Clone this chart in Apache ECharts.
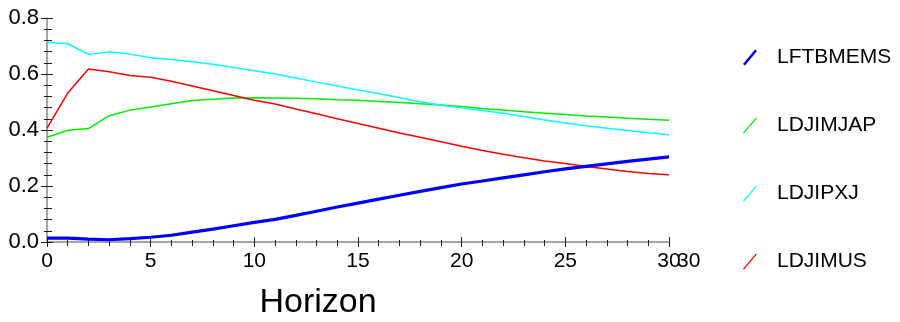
<!DOCTYPE html>
<html>
<head>
<meta charset="utf-8">
<script src="https://cdn.jsdelivr.net/npm/echarts@6/dist/echarts.min.js"></script>
<style>
  html, body { margin: 0; padding: 0; background: #fff; }
  #chart { width: 900px; height: 322px; }
</style>
</head>
<body>
<div id="chart"></div>
<script>
// horizon steps 0..30
var horizon = [0, 1, 2, 3, 4, 5, 6, 7, 8, 9, 10, 11, 12, 13, 14, 15, 16, 17, 18, 19, 20,
               21, 22, 23, 24, 25, 26, 27, 28, 29, 30];
var seriesNames = ['LFTBMEMS', 'LDJIMJAP', 'LDJIPXJ', 'LDJIMUS'];
var lftbmems = [0.014, 0.014, 0.010, 0.008, 0.012, 0.017, 0.024, 0.035, 0.046, 0.058, 0.070,
                0.081, 0.095, 0.110, 0.125, 0.139, 0.153, 0.167, 0.181, 0.194, 0.207,
                0.218, 0.229, 0.240, 0.251, 0.261, 0.270, 0.279, 0.288, 0.296, 0.304];
var ldjimjap = [0.374, 0.399, 0.405, 0.451, 0.471, 0.482, 0.494, 0.505, 0.510, 0.514, 0.515,
                0.514, 0.513, 0.512, 0.508, 0.506, 0.502, 0.498, 0.494, 0.489, 0.484,
                0.477, 0.471, 0.465, 0.460, 0.455, 0.450, 0.446, 0.442, 0.438, 0.435];
var ldjipxj = [0.713, 0.708, 0.670, 0.679, 0.671, 0.658, 0.652, 0.644, 0.635, 0.623, 0.612,
               0.600, 0.586, 0.571, 0.557, 0.543, 0.530, 0.515, 0.501, 0.488, 0.479,
               0.470, 0.460, 0.448, 0.436, 0.425, 0.415, 0.406, 0.398, 0.390, 0.383];
var ldjimus = [0.407, 0.532, 0.618, 0.608, 0.595, 0.588, 0.574, 0.557, 0.540, 0.523, 0.506,
               0.493, 0.475, 0.458, 0.440, 0.423, 0.406, 0.389, 0.374, 0.358, 0.342,
               0.327, 0.313, 0.301, 0.289, 0.280, 0.270, 0.261, 0.252, 0.245, 0.240];
var colors = ['#0000ff', '#00ee00', '#00ffff', '#ff0000'];

var font = "'Liberation Sans', Arial, sans-serif";

function pairs(vals) {
    return horizon.map(function (h, i) { return [h, vals[i]]; });
}

var thickIcon = 'path://M0,14.5 L12,0 L14,1.5 L2,16 Z';
var thinIcon = 'path://M0,15.2 L13,0 L14,0.8 L1,16 Z';

var xBase = {
    type: 'value', min: 0, max: 30, interval: 5,
    splitLine: {show: false}
};
var yBase = {
    type: 'value', min: 0, max: 0.8, interval: 0.2,
    splitLine: {show: false}
};

var option = {
    animation: false,
    color: colors,
    grid: {left: 47, right: 231, top: 18, bottom: 80},
    legend: {
        orient: 'vertical',
        left: 738, top: 42,
        itemWidth: 14, itemHeight: 16,
        itemGap: 47,
        textStyle: {fontFamily: font, fontSize: 21, color: '#000', padding: [0, 0, 0, 15]},
        data: [
            {name: seriesNames[0], icon: thickIcon},
            {name: seriesNames[1], icon: thinIcon},
            {name: seriesNames[2], icon: thinIcon},
            {name: seriesNames[3], icon: thinIcon}
        ]
    },
    xAxis: [
        Object.assign({}, xBase, {
            position: 'bottom',
            axisLine: {show: true, lineStyle: {color: '#888', width: 1.5}},
            axisTick: {show: true, inside: false, length: 5, lineStyle: {color: '#222'}},
            minorTick: {show: true, splitNumber: 5, length: 4, lineStyle: {color: '#222'}},
            axisLabel: {fontFamily: font, fontSize: 21, color: '#000', margin: 9}
        }),
        Object.assign({}, xBase, {
            position: 'bottom',
            axisLine: {show: false},
            axisTick: {show: true, inside: true, length: 5, lineStyle: {color: '#222'}},
            minorTick: {show: true, splitNumber: 5, length: 2, lineStyle: {color: '#222'}},
            axisLabel: {show: false}
        })
    ],
    yAxis: [
        Object.assign({}, yBase, {
            position: 'left',
            axisLine: {show: true, lineStyle: {color: '#888', width: 1.5}},
            axisTick: {show: true, inside: false, length: 6, lineStyle: {color: '#222'}},
            minorTick: {show: true, splitNumber: 5, length: 3, lineStyle: {color: '#222'}},
            axisLabel: {
                fontFamily: font, fontSize: 22, color: '#000', margin: 8,
                formatter: function (v) { return v.toFixed(1); }
            }
        }),
        Object.assign({}, yBase, {
            position: 'left',
            axisLine: {show: false},
            axisTick: {show: true, inside: true, length: 6, lineStyle: {color: '#222'}},
            minorTick: {show: true, splitNumber: 5, length: 5, lineStyle: {color: '#222'}},
            axisLabel: {show: false}
        })
    ],
    graphic: [
        {
            type: 'text', left: 677, top: 251,
            style: {text: '30', font: '21px ' + font, fill: '#000'}
        },
        {
            type: 'text',
            style: {x: 318, y: 303, text: 'Horizon', font: '34px ' + font, fill: '#000',
                    align: 'center', verticalAlign: 'middle'}
        }
    ],
    series: [
        {name: seriesNames[0], type: 'line', showSymbol: false, data: pairs(lftbmems),
         lineStyle: {width: 3.2, color: colors[0]}, z: 5},
        {name: seriesNames[1], type: 'line', showSymbol: false, data: pairs(ldjimjap),
         lineStyle: {width: 1.5, color: colors[1]}},
        {name: seriesNames[2], type: 'line', showSymbol: false, data: pairs(ldjipxj),
         lineStyle: {width: 1.5, color: colors[2]}},
        {name: seriesNames[3], type: 'line', showSymbol: false, data: pairs(ldjimus),
         lineStyle: {width: 1.5, color: colors[3]}}
    ]
};

var chart = echarts.init(document.getElementById('chart'));
chart.setOption(option);
</script>
</body>
</html>
